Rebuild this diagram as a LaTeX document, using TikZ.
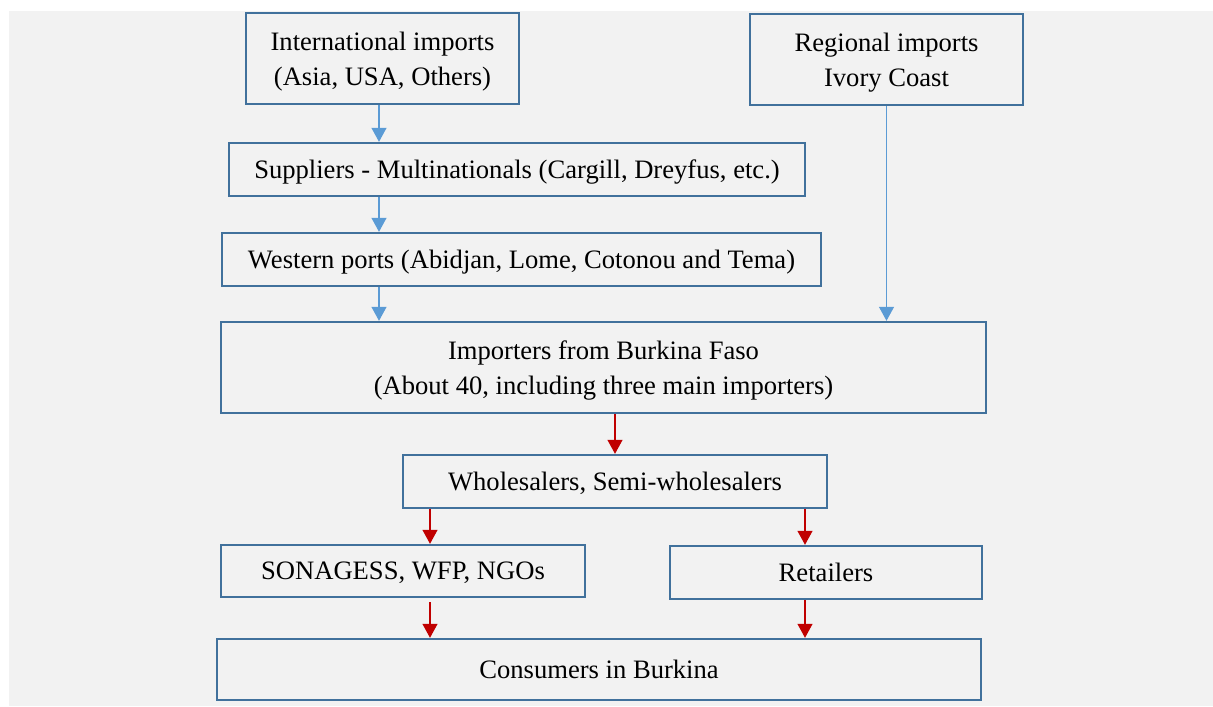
\documentclass[tikz,border=0pt]{standalone}
\usepackage{fontspec}
\setmainfont{Liberation Serif}
\usetikzlibrary{arrows.meta}
\definecolor{boxline}{HTML}{41719C}
\definecolor{bluearr}{HTML}{5B9BD5}
\definecolor{redarr}{HTML}{C00000}
\definecolor{backgr}{HTML}{F2F2F2}
\tikzset{
  flowbox/.style={draw=boxline, line width=1.2pt, align=center, inner sep=0pt,
    text depth=0pt, font=\fontsize{13.3}{17.5}\selectfont},
  bluelink/.style={draw=bluearr, line width=0.6pt, -{Triangle[width=7.5pt,length=7pt]}},
  redlink/.style={draw=redarr, line width=0.6pt, -{Triangle[width=7.5pt,length=7pt]}}
}
\begin{document}
\begin{tikzpicture}[x=0.5pt, y=-0.5pt]
  \useasboundingbox (0,0) rectangle (1213,706);
  \fill[backgr] (9,11) rectangle (1213,706);
  % sources
  \node[flowbox, minimum width=136.5pt, minimum height=45.5pt] (intl) at (382.5,58.5)
    {International imports\\(Asia, USA, Others)};
  \node[flowbox, minimum width=136.5pt, minimum height=45.5pt] (reg) at (886.5,59.5)
    {Regional imports\\Ivory Coast};
  \node[flowbox, minimum width=288pt, minimum height=26.5pt] (supp) at (517,169.5)
    {Suppliers - Multinationals (Cargill, Dreyfus, etc.)};
  \node[flowbox, minimum width=299.5pt, minimum height=26.5pt] (ports) at (521.5,259.5)
    {Western ports (Abidjan, Lome, Cotonou and Tema)};
  \node[flowbox, minimum width=382.5pt, minimum height=45.5pt] (imp) at (603.5,367.5)
    {Importers from Burkina Faso\\(About 40, including three main importers)};
  % distribution
  \node[flowbox, minimum width=212pt, minimum height=26.5pt] (whole) at (615,481.5)
    {Wholesalers, Semi-wholesalers};
  \node[flowbox, minimum width=182pt, minimum height=26pt] (sona) at (403,571)
    {SONAGESS, WFP, NGOs};
  \node[flowbox, minimum width=156pt, minimum height=26.5pt] (retail) at (826,572.5)
    {Retailers};
  \node[flowbox, minimum width=382pt, minimum height=30.5pt] (cons) at (599,669.5)
    {Consumers in Burkina};
  \coordinate (lcol) at (379,0);
  \coordinate (ccol) at (430,0);
  \coordinate (rcol) at (805,0);
  % links
  \draw[bluelink] (lcol |- intl.south) -- (lcol |- supp.north);
  \draw[bluelink] (lcol |- supp.south) -- (lcol |- ports.north);
  \draw[bluelink] (lcol |- ports.south) -- (lcol |- imp.north);
  \draw[bluelink] (reg.south) -- (reg.south |- imp.north);
  \draw[redlink] (whole.north |- imp.south) -- (whole.north);
  \draw[redlink] (ccol |- whole.south) -- (ccol |- sona.north);
  \draw[redlink] (rcol |- whole.south) -- (rcol |- retail.north);
  \draw[redlink, shorten <=2pt] (ccol |- sona.south) -- (ccol |- cons.north);
  \draw[redlink] (rcol |- retail.south) -- (rcol |- cons.north);
\end{tikzpicture}
\end{document}
